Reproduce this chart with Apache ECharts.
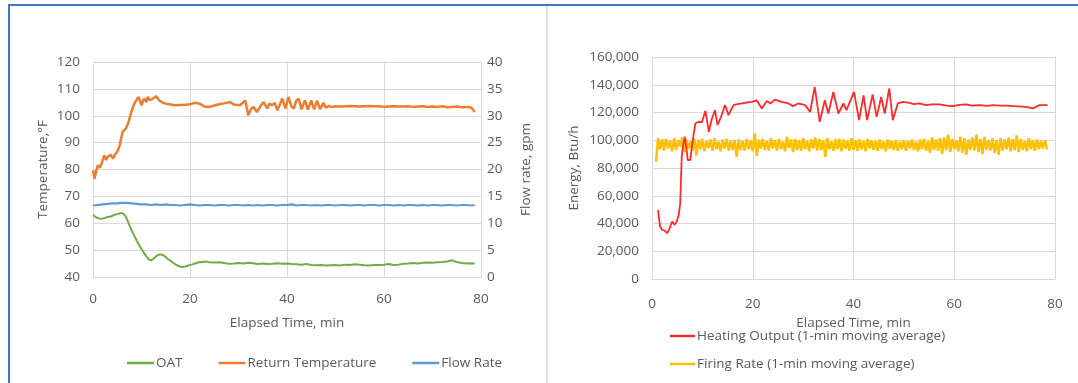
<!DOCTYPE html>
<html>
<head>
<meta charset="utf-8">
<script src="https://cdn.jsdelivr.net/npm/echarts@6/dist/echarts.min.js"></script>
<style>
  html, body { margin: 0; padding: 0; background: #ffffff; }
  #chart { width: 1078px; height: 383px; }
</style>
</head>
<body>
<div id="chart"></div>
<script>
// ---- Left panel: temperatures (°F) and flow rate (gpm) vs elapsed time (min) ----
const oat = [
  [0,63.0],[0.5,62.4],[1,61.9],[1.5,61.7],[2,61.8],[2.5,62.0],[3,62.3],[3.5,62.4],[4,62.8],[4.5,63.2],
  [5,63.4],[5.5,63.6],[6,63.8],[6.5,63.2],[7,61.5],[7.5,59.3],[8,57.2],[8.5,55.4],[9,53.6],[9.5,51.9],
  [10,50.4],[10.5,49.0],[11,47.7],[11.5,46.6],[12,46.2],[12.5,46.8],[13,47.7],[13.5,48.3],[14,48.4],[14.5,48.1],
  [15,47.4],[15.5,46.6],[16,46.0],[16.5,45.3],[17,44.7],[17.5,44.2],[18,43.8],[18.5,43.7],[19,43.9],[19.5,44.2],
  [20,44.5],[20.5,44.7],[21,45.0],[21.5,45.3],[22,45.6],[22.5,45.5],[23,45.8],[23.5,45.7],[24,45.5],[25,45.4],
  [26,45.5],[27,45.2],[28,44.9],[29,45.0],[30,45.2],[31,45.0],[32,45.3],[33,45.1],[34,44.8],[35,45.0],
  [36,44.8],[37,44.9],[38,45.1],[39,44.9],[40,45.0],[41,44.8],[42,44.7],[43,44.6],[44,44.8],[45,44.5],
  [46,44.4],[47,44.5],[48,44.3],[49,44.4],[50,44.5],[51,44.3],[52,44.6],[53,44.5],[54,44.7],[55,44.6],
  [56,44.4],[57,44.3],[58,44.5],[59,44.5],[60,44.6],[61,44.8],[62,44.5],[63,44.6],[64,44.9],[65,45.0],
  [66,45.2],[67,45.0],[68,45.3],[69,45.4],[70,45.3],[71,45.5],[72,45.6],[73,45.8],[74,46.2],[75,45.6],
  [76,45.2],[77,45.0],[78,45.1],[78.7,45.0]
];

const returnTemp = [
  [0,79.7],[0.3,76.6],[0.6,79.0],[1,81.6],[1.4,80.6],[1.8,82.4],[2.3,85.3],[2.7,83.5],[3,84.7],[3.4,84.2],
  [3.7,85.5],[4.1,84.0],[4.5,85.4],[5.1,87.0],[5.5,89.0],[6.1,94.0],[6.8,95.3],[7.3,97.5],[7.9,101.4],[8.4,104.0],
  [8.9,105.7],[9.4,107.0],[10,103.9],[10.5,106.4],[11,105.1],[11.3,107.0],[11.7,105.8],[12.2,106.2],[12.6,105.5],[13,107.3],
  [13.7,105.7],[14.3,104.9],[15,104.5],[16,104.2],[17,103.9],[18,104.0],[19,104.1],[20,104.3],[21,104.8],[21.4,105.1],
  [22,104.5],[23,103.4],[24,103.3],[25,103.8],[26,104.3],[27,104.6],[28.3,105.1],[29,104.2],[30.3,103.9],[31.4,105.7],
  [32,100.2],[32.6,102.5],[33.1,103.3],[33.8,101.4],[34.5,103.5],[35.2,105.1],[35.9,102.7],[36.4,104.5],[36.9,103.9],[37.5,104.8],
  [38,102.0],[38.6,104.5],[39,106.4],[39.7,102.7],[40.3,107.0],[40.9,103.5],[41.4,102.7],[41.9,105.5],[42.4,106.4],[43,102.4],
  [43.7,105.8],[44.3,102.3],[45,105.7],[45.6,102.4],[46.2,105.6],[46.8,102.5],[47.5,104.8],[48,103.0],[48.6,103.7],[49.2,103.2],
  [50,103.5],[51,103.4],[52,103.5],[53,103.6],[54,103.5],[55,103.4],[56,103.5],[57,103.6],[58,103.5],[59,103.5],
  [60,103.3],[61,103.4],[62,103.5],[63,103.4],[64,103.4],[65,103.5],[66,103.3],[67,103.4],[68,103.5],[69,103.3],
  [70,103.4],[71,103.3],[72,103.5],[73,103.2],[74,103.3],[75,103.4],[76,103.2],[77,103.3],[78,103.1],[78.3,102.6],
  [78.7,101.4]
];

const flowRate = [
  [0,13.3],[1,13.4],[2,13.5],[3,13.6],[4,13.7],[5,13.7],[6,13.8],[7,13.8],[8,13.7],[9,13.6],
  [10,13.5],[11,13.5],[12,13.4],[13,13.5],[14,13.4],[15,13.5],[16,13.4],[17,13.4],[18,13.3],[19,13.4],
  [20,13.5],[21,13.4],[22,13.3],[23,13.4],[24,13.4],[25,13.3],[26,13.4],[27,13.4],[28,13.3],[29,13.4],
  [30,13.4],[31,13.3],[32,13.4],[33,13.3],[34,13.4],[35,13.3],[36,13.4],[37,13.4],[38,13.3],[39,13.4],
  [40,13.4],[41,13.5],[42,13.3],[43,13.4],[44,13.4],[45,13.3],[46,13.4],[47,13.3],[48,13.4],[49,13.4],
  [50,13.3],[51,13.4],[52,13.4],[53,13.3],[54,13.4],[55,13.4],[56,13.3],[57,13.4],[58,13.4],[59,13.3],
  [60,13.4],[61,13.4],[62,13.3],[63,13.4],[64,13.3],[65,13.4],[66,13.4],[67,13.3],[68,13.4],[69,13.3],
  [70,13.4],[71,13.4],[72,13.3],[73,13.4],[74,13.4],[75,13.3],[76,13.4],[77,13.4],[78,13.3],[78.7,13.4]
];

// ---- Right panel: heating output and firing rate (Btu/h, 1-min moving averages) ----
const heatingOutput = [
  [1.2,49800],[1.6,37800],[2,35500],[2.5,34800],[3,33000],[3.5,36500],[4,41400],[4.5,39000],[4.9,41400],[5.3,46000],
  [5.6,54600],[5.9,88100],[6.2,97000],[6.5,102500],[6.8,95000],[7.1,85700],[7.6,85700],[7.9,95300],[8.3,105000],[8.6,112100],
  [9.2,113300],[9.9,113000],[10.6,121200],[11.3,106100],[11.8,114500],[12.5,121700],[13,110900],[13.7,116900],[14.5,125300],[15.2,118100],
  [15.7,122000],[16.2,125300],[17,126000],[17.8,126500],[18.8,127200],[19.8,127600],[20.8,128800],[21.8,122900],[22.8,128300],[23.5,126500],
  [24.4,129300],[25.7,127600],[27.1,126500],[28,124600],[29,126500],[30.4,125300],[31.4,120400],[32.3,138400],[33.3,113300],[34.3,128800],
  [35,119300],[36,134800],[37,119300],[38,126500],[38.6,121700],[40.1,134800],[41.1,114500],[42,132400],[42.7,114500],[43.8,133000],
  [44.6,116900],[45.5,131200],[46.2,119300],[47.1,137300],[47.8,114500],[48.8,126500],[49.8,127600],[51.1,127000],[52,126000],[53.1,126500],
  [54.4,125300],[55.5,125900],[57.1,125900],[58.5,125000],[59.7,124600],[61,125500],[62.4,125900],[63.5,125000],[65,125300],[66.5,124800],
  [67.7,125300],[69,124900],[70.3,125000],[72,124600],[73.5,124300],[74.5,123800],[75.6,122900],[76.9,125300],[78.5,125300]
];

// firing rate is logged every 0.4 min starting at 0.8 min
const firingStart = 0.8;
const firingStep = 0.4;
const firingRate = [
  84500,101500,93500,100500,92500,101000,94000,99500,92000,101500,
  93000,100000,95500,102000,91500,100500,94000,99000,92500,101000,
  89000,100500,93500,101000,92000,99500,94500,100500,92500,101500,
  93500,99000,92000,100500,94000,101000,92500,99500,93000,100000,
  88000,100500,93000,99500,92500,101000,93500,100000,92000,105000,
  88500,100500,94000,101000,93000,99500,92500,101500,94000,100000,
  92500,101000,93500,99000,92000,102500,94500,100500,91500,101000,
  93000,100000,92500,101500,93500,99500,92000,100500,94000,102000,
  92500,101000,93000,100000,88000,101500,93500,99000,92500,100500,
  93500,101000,92000,100500,94000,99500,92500,101500,93000,100000,
  92500,100500,93500,99500,92000,101000,94000,100000,93000,99500,
  92500,100500,93500,99000,92000,100500,94000,99500,93000,100000,
  92500,99000,93500,100000,92500,99500,94000,100500,93000,99000,
  92000,100500,93500,101000,92500,99500,91000,102000,93000,100500,
  92500,101500,90000,102000,93000,104000,91500,101000,93500,100000,
  92000,102500,91000,101500,89500,100500,93000,102000,92500,104000,
  91500,101000,90000,102500,93000,100000,92500,101500,91000,100000,
  89500,101500,92500,100500,93500,102000,92000,101000,93000,103500,
  91500,101000,93000,99500,92000,101500,93500,100000,92500,100500,
  93500,99500,94000,100000,93500
];

const timeTicks = [0, 20, 40, 60, 80];

const FONT = 'Open Sans';
const TXT = '#595959';
const GRID_LINE = '#d9d9d9';
const FS = 13.5;

const chart = echarts.init(document.getElementById('chart'), null, { renderer: 'canvas' });

function xAxisCfg(gridIndex, labelMargin, nameGap) {
  return {
    type: 'value', gridIndex, min: timeTicks[0], max: timeTicks[timeTicks.length - 1],
    interval: timeTicks[1] - timeTicks[0],
    name: 'Elapsed Time, min', nameLocation: 'middle', nameGap,
    nameTextStyle: { color: TXT, fontFamily: FONT, fontSize: FS },
    axisLine: { show: true, lineStyle: { color: GRID_LINE, width: 1 } },
    axisTick: { show: false },
    axisLabel: { color: TXT, fontFamily: FONT, fontSize: FS, margin: labelMargin },
    splitLine: { show: true, lineStyle: { color: GRID_LINE, width: 1 } }
  };
}

const firingData = firingRate.map((v, i) => [+(firingStart + i * firingStep).toFixed(2), v]);

const legendText = { color: TXT, fontFamily: FONT, fontSize: FS, padding: [0, 0, 0, -3] };

chart.setOption({
  animation: false,
  backgroundColor: '#ffffff',
  textStyle: { fontFamily: FONT },
  grid: [
    { left: 93, top: 62, width: 388, height: 215, containLabel: false },
    { left: 652, top: 57, width: 403, height: 222, containLabel: false }
  ],
  xAxis: [
    xAxisCfg(0, 15, 39),
    xAxisCfg(1, 18, 34)
  ],
  yAxis: [
    {
      type: 'value', gridIndex: 0, min: 40, max: 120, interval: 10,
      name: 'Temperature,°F', nameLocation: 'middle', nameGap: 43,
      nameTextStyle: { color: TXT, fontFamily: FONT, fontSize: FS },
      axisLine: { show: false }, axisTick: { show: false },
      axisLabel: { color: TXT, fontFamily: FONT, fontSize: FS, margin: 13 },
      splitLine: { show: true, lineStyle: { color: GRID_LINE, width: 1 } }
    },
    {
      type: 'value', gridIndex: 0, position: 'right', min: 0, max: 40, interval: 5,
      name: 'Flow rate, gpm', nameLocation: 'middle', nameGap: 38,
      nameTextStyle: { color: TXT, fontFamily: FONT, fontSize: FS },
      axisLine: { show: true, lineStyle: { color: GRID_LINE, width: 1 } }, axisTick: { show: false },
      axisLabel: { color: TXT, fontFamily: FONT, fontSize: FS, margin: 6 },
      splitLine: { show: false }
    },
    {
      type: 'value', gridIndex: 1, min: 0, max: 160000, interval: 20000,
      name: 'Energy, Btu/h', nameLocation: 'middle', nameGap: 71,
      nameTextStyle: { color: TXT, fontFamily: FONT, fontSize: FS },
      axisLine: { show: true, lineStyle: { color: GRID_LINE, width: 1 } }, axisTick: { show: false },
      axisLabel: {
        color: TXT, fontFamily: FONT, fontSize: FS, margin: 13,
        formatter: v => v.toLocaleString('en-US')
      },
      splitLine: { show: true, lineStyle: { color: GRID_LINE, width: 1 } }
    }
  ],
  legend: [
    {
      left: 127, top: 356, padding: 0, orient: 'horizontal', itemGap: 36,
      icon: 'rect', itemWidth: 27, itemHeight: 2.5,
      textStyle: legendText,
      data: ['OAT', 'Return Temperature', 'Flow Rate']
    },
    {
      left: 670, top: 329, padding: 0, orient: 'vertical', itemGap: 14,
      icon: 'rect', itemWidth: 25, itemHeight: 2.5,
      textStyle: legendText,
      data: ['Heating Output (1-min moving average)', 'Firing Rate (1-min moving average)']
    }
  ],
  series: [
    {
      name: 'OAT', type: 'line', xAxisIndex: 0, yAxisIndex: 0, data: oat,
      symbol: 'none', lineStyle: { color: '#70ad47', width: 2 }, itemStyle: { color: '#70ad47' }
    },
    {
      name: 'Return Temperature', type: 'line', xAxisIndex: 0, yAxisIndex: 0, data: returnTemp,
      symbol: 'none', lineStyle: { color: '#ed7d31', width: 2.5 }, itemStyle: { color: '#ed7d31' }
    },
    {
      name: 'Flow Rate', type: 'line', xAxisIndex: 0, yAxisIndex: 1, data: flowRate,
      symbol: 'none', lineStyle: { color: '#5b9bd5', width: 2.2 }, itemStyle: { color: '#5b9bd5' }
    },
    {
      name: 'Heating Output (1-min moving average)', type: 'line', xAxisIndex: 1, yAxisIndex: 2, data: heatingOutput,
      symbol: 'none', z: 3, lineStyle: { color: '#ff2a2a', width: 1.8 }, itemStyle: { color: '#ff2a2a' }
    },
    {
      name: 'Firing Rate (1-min moving average)', type: 'line', xAxisIndex: 1, yAxisIndex: 2, data: firingData,
      symbol: 'none', z: 2, lineStyle: { color: '#ffc000', width: 2.5 }, itemStyle: { color: '#ffc000' }
    }
  ],
  graphic: [
    // outer frame of the left figure
    { type: 'line', shape: { x1: 8, y1: 5, x2: 1078, y2: 5 }, style: { stroke: '#4472c4', lineWidth: 2 }, silent: true },
    { type: 'line', shape: { x1: 9, y1: 5, x2: 9, y2: 383 }, style: { stroke: '#4472c4', lineWidth: 2 }, silent: true },
    // divider in front of the right figure
    { type: 'line', shape: { x1: 547, y1: 6, x2: 547, y2: 383 }, style: { stroke: '#d6d6d6', lineWidth: 1.5 }, silent: true }
  ]
});
</script>
</body>
</html>
